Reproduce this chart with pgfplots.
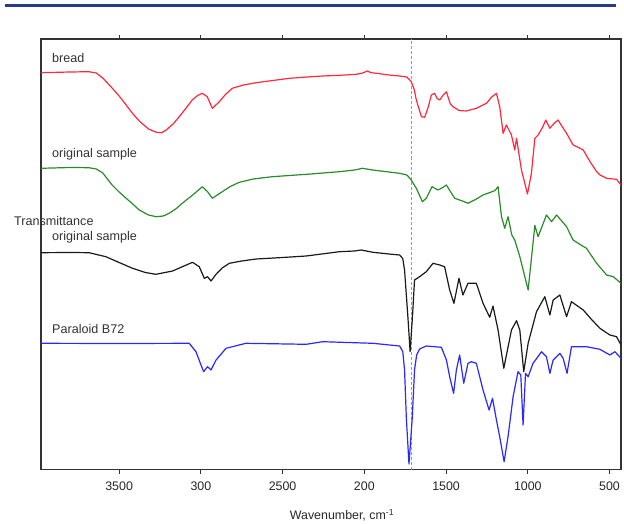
\documentclass[border=0pt]{standalone}
\usepackage{fontspec}
\setmainfont{Liberation Sans}
\usepackage{pgfplots}
\pgfplotsset{compat=1.18}
\definecolor{redc}{RGB}{255,40,60}
\definecolor{greenc}{RGB}{40,140,40}
\definecolor{blackc}{RGB}{25,25,25}
\definecolor{bluec}{RGB}{40,40,255}
\definecolor{rulec}{RGB}{43,57,140}
\begin{document}
\begin{tikzpicture}[x=1pt,y=1pt]
\path[use as bounding box] (0,0) rectangle (624,523);
\draw[rulec, line width=2.5pt] (5,517.3) -- (616,517.3);
\begin{axis}[
  at={(41pt,53.5pt)}, anchor=south west,
  width=580pt, height=430.5pt, scale only axis,
  x dir=reverse, xmin=430, xmax=3978, ymin=0, ymax=430.5,
  xtick={3500,3000,2500,2000,1500,1000,500},
  xticklabels={3500,300,2500,200,1500,1000,500},
  ytick=\empty,
  tick align=outside, major tick length=4pt,
  xtick style={color=black!80, line width=1pt},
  axis line style={color=black!80, line width=1.2pt},
  /pgf/number format/assume math mode=true,
  xticklabel style={font=\fontsize{12.4}{14}\selectfont, color=black!85, yshift=-5pt},
  xlabel={Wavenumber, cm\textsuperscript{-1}},
  xlabel style={at={(axis description cs:0.519,0)}, anchor=center, yshift=-45.5pt, font=\fontsize{12.4}{14}\selectfont, color=black!85},
  every axis plot/.append style={line width=1.2pt, line join=round, mark=none},
]
\addplot[gray!80, dashed, line width=1.2pt, dash pattern=on 3pt off 2pt] coordinates {(1711,0) (1711,430.5)};
\addplot[redc] coordinates {
(3978,396.8) (3800,397.5) (3684,397.8) (3640,396.5) (3600,391.5) (3543,381.5) (3500,373.5) (3457,364.5)
(3420,356.5) (3377,348.5) (3320,340.5) (3273,337.2) (3240,336.8) (3212,339.5) (3170,345.5)
(3132,352.8) (3090,361.5) (3053,369.5) (3020,374) (2991,376.2) (2961,372.8) (2930,361.2) (2887,367.8)
(2850,375) (2808,381.2) (2740,384.5) (2661,386.8) (2560,389)
(2458,391.2) (2350,392.5) (2256,393.5) (2150,394.2) (2048,395.2) (2010,396.5) (1981,398.5) (1960,396.8) (1925,396.2)
(1850,394.5) (1784,393.5) (1740,392.5) (1713,387.8) (1695,380) (1682,369.5)
(1651,352.8) (1631,352.2) (1610,362) (1590,374.5) (1570,376.2) (1555,371) (1539,369.5) (1520,374) (1498,377.8) (1475,366) (1458,362.8) (1420,359) (1376,358.5)
(1315,361.2) (1253,366.2) (1223,372.2) (1192,376.2) (1172,362.8) (1151,336.2) (1131,344.5) (1100,334.5)
(1080,319.5) (1069,331.2) (1039,299.5) (1002,275.5) (978,296.2) (957,331.2) (937,334.5) (910,342) (890,349.5)
(865,341.2) (840,346) (815,349.5) (790,343) (763,336.2) (723,324.5) (690,322) (661,319.5) (620,308) (579,297.8) (559,294.5) (518,291.2)
(457,290.2) (430,284.5)
};
\addplot[greenc] coordinates {
(3978,301.2) (3800,302) (3684,301.8) (3640,300.5) (3600,296.5) (3543,284.5) (3500,277.5) (3457,271.2) (3420,266) (3377,259.5) (3320,254.5) (3273,252.8) (3230,253.5) (3194,256.2)
(3150,261) (3114,266.2) (3050,274.5) (2991,282.8) (2960,278) (2930,271.2) (2869,277.8) (2820,283) (2765,287.2) (2680,290.5) (2563,292.8) (2354,295.2) (2152,297.8)
(2060,299.5) (2011,301.2) (1950,299.5) (1850,297.5) (1784,296.2) (1740,294.5) (1713,289.5) (1682,281.2) (1645,267.8) (1621,271.2) (1586,282.8)
(1550,279.5) (1520,282) (1498,284.5) (1470,277) (1447,271.2) (1400,268.5) (1366,266.2) (1320,270) (1274,274.5) (1202,278.8) (1182,282.8) (1161,252.8)
(1141,241.2) (1121,252.8) (1098,234.5) (1080,229.5) (1049,212.8) (998,179.5) (957,244) (937,232.8)
(886,254.5) (855,247.8) (824,254.5) (790,248) (763,242.8) (723,229.5) (680,225) (641,221.2) (579,206.2) (518,194.5)
(477,192.8) (430,186.2)
};
\addplot[blackc] coordinates {
(3978,216.8) (3800,217) (3684,216.8) (3581,212.8) (3500,207) (3418,201.2) (3340,197) (3275,195.2) (3173,198.5) (3110,203) (3051,207.2) (3010,202.8)
(2979,191.2) (2959,192.8) (2938,188.5) (2907,195.2) (2870,201.5) (2826,206.2) (2750,208.5) (2662,210.5) (2500,212) (2356,213.5) (2152,217.8)
(2060,218.5) (2019,219.5) (1948,217.2) (1850,215.5) (1784,214.5) (1765,211) (1754,199.5) (1733,151.2) (1720,117.8) (1705,154.5) (1693,189.5)
(1662,192.8) (1621,197.8) (1580,206.2) (1539,204.5) (1509,202.8) (1478,179.5) (1452,166.2) (1421,191.2)
(1397,174.5) (1366,186.2) (1315,186.2) (1274,166.2) (1233,152.2) (1213,163.5) (1182,139.5) (1147,101.2)
(1100,139.5) (1069,148.8) (1049,139.5) (1025,97.8) (998,126.2) (947,157.8) (896,172.8) (865,154.5)
(845,169.5) (804,174.5) (763,152.8) (733,167.8) (661,159.5) (610,150) (559,141.2) (498,134.5) (457,132.8)
(430,124.5)
};
\addplot[bluec] coordinates {
(3978,126.2) (3500,126) (3071,126.2) (3030,117.8) (2999,104.5) (2983,97.8) (2959,102.8) (2938,99.5) (2907,109.5)
(2846,121.2) (2724,126.2) (2356,125.2) (2254,127.8) (1948,126.2) (1784,123.5) (1765,118) (1754,99.5) (1743,51.2)
(1727,5.5) (1707,51.2) (1693,99.5) (1680,114.5) (1662,120.5) (1621,123.5) (1529,122.2) (1498,109.5)
(1478,92.8) (1454,76.2) (1437,99.5) (1417,114.5) (1392,86.2) (1366,106.2) (1345,107.8) (1315,106.2)
(1274,79.5) (1237,59.5) (1216,71.2) (1192,49.5) (1172,32.8) (1145,7.8) (1121,32.8) (1090,72.8)
(1060,97.8) (1043,94.5) (1029,44.5) (1014,96.2) (998,92.8) (968,106.2) (916,117.8) (886,112.8)
(865,96.2) (845,109.5) (804,116.2) (784,111.2) (760,96.2) (733,122.8) (641,122.8) (559,120.2)
(498,114.5) (467,117.8) (430,111.2)
};
\end{axis}
\begin{scope}[every node/.style={inner sep=0pt, anchor=base west, font=\fontsize{12.6}{14}\selectfont, text=black!80}]
\node at (52,460) {bread};
\node at (52,365.5) {original sample};
\node at (14,298) {Transmittance};
\node at (52,283) {original sample};
\node at (52,190) {Paraloid B72};
\end{scope}
\end{tikzpicture}
\end{document}
